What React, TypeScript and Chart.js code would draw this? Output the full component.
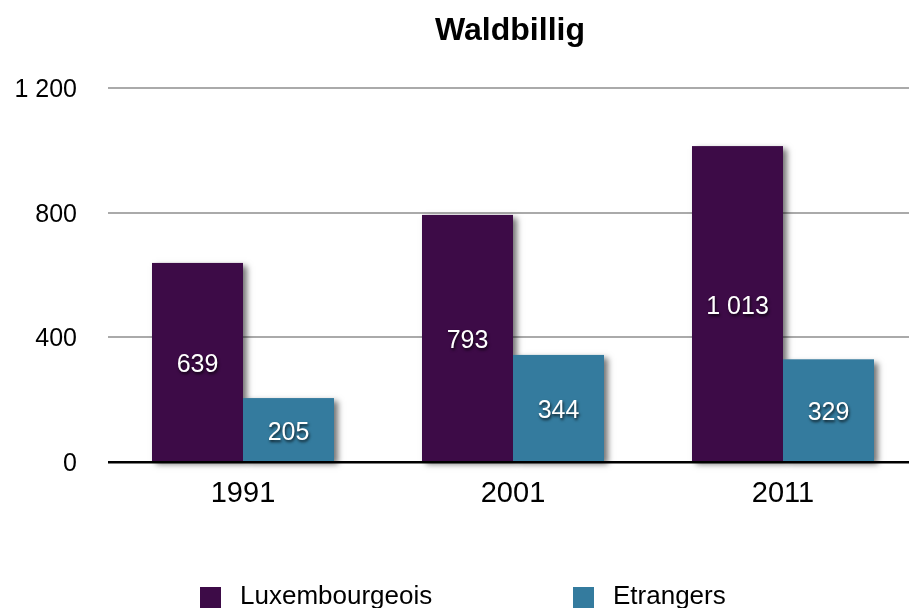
import React, { useEffect, useRef } from 'react';
import { Chart, registerables } from 'chart.js';

Chart.register(...registerables);

const TITLE = 'Waldbillig';
const categories = ['1991', '2001', '2011'];
const seriesNames = ['Luxembourgeois', 'Etrangers'];
const luxembourgeois = [639, 793, 1013];
const etrangers = [205, 344, 329];
const seriesColors = ['#3d0b47', '#347b9e'];
const yTicks = [0, 400, 800, 1200];

const FONT = '"Liberation Sans", Arial, Helvetica, sans-serif';
const fmt = (v: number) => String(v).replace(/\B(?=(\d{3})+(?!\d))/g, ' ');

const shadowPlugin = {
  id: 'barShadows',
  beforeDatasetsDraw(chart: any) {
    const ctx = chart.ctx;
    ctx.save();
    chart.data.datasets.forEach((ds: any, i: number) => {
      const meta = chart.getDatasetMeta(i);
      meta.data.forEach((el: any) => {
        const { x, y, base, width } = el.getProps(['x', 'y', 'base', 'width'], true);
        ctx.shadowColor = 'rgba(0,0,0,0.55)';
        ctx.shadowBlur = 6;
        ctx.shadowOffsetX = 4;
        ctx.shadowOffsetY = 3;
        ctx.fillStyle = ds.backgroundColor;
        ctx.fillRect(x - width / 2, y, width, base - y);
      });
    });
    ctx.restore();
  },
  afterDatasetsDraw(chart: any) {
    const ctx = chart.ctx;
    ctx.save();
    ctx.font = `25px ${FONT}`;
    ctx.textAlign = 'center';
    ctx.textBaseline = 'middle';
    ctx.fillStyle = '#ffffff';
    ctx.shadowColor = 'rgba(0,0,0,0.75)';
    ctx.shadowBlur = 3;
    ctx.shadowOffsetX = 1;
    ctx.shadowOffsetY = 2;
    chart.data.datasets.forEach((ds: any, i: number) => {
      const meta = chart.getDatasetMeta(i);
      meta.data.forEach((el: any, j: number) => {
        const { x, y, base } = el.getProps(['x', 'y', 'base'], true);
        ctx.fillText(fmt(ds.data[j]), x, (y + base) / 2 + 3);
      });
    });
    ctx.restore();
  },
  afterDraw(chart: any) {
    const ctx = chart.ctx;
    const area = chart.chartArea;
    ctx.save();
    // title
    ctx.font = `bold 32px ${FONT}`;
    ctx.fillStyle = '#000';
    ctx.textAlign = 'center';
    ctx.textBaseline = 'alphabetic';
    ctx.fillText(TITLE, (area.left + area.right) / 2 - 3, 40);
    // legend
    const boxX = [200, 573];
    ctx.font = `26px ${FONT}`;
    ctx.textAlign = 'left';
    chart.data.datasets.forEach((ds: any, i: number) => {
      ctx.fillStyle = ds.backgroundColor;
      ctx.fillRect(boxX[i], 587, 21, 21);
      ctx.fillStyle = '#000';
      ctx.fillText(ds.label, boxX[i] + 40, 604);
    });
    ctx.restore();
  },
};

export default function App() {
  const ref = useRef<HTMLCanvasElement | null>(null);

  useEffect(() => {
    if (!ref.current) return;
    const chart = new Chart(ref.current, {
      type: 'bar',
      data: {
        labels: categories,
        datasets: [
          {
            label: seriesNames[0],
            data: luxembourgeois,
            backgroundColor: seriesColors[0],
            borderWidth: 0,
            categoryPercentage: 0.674,
            barPercentage: 1.0,
          },
          {
            label: seriesNames[1],
            data: etrangers,
            backgroundColor: seriesColors[1],
            borderWidth: 0,
            categoryPercentage: 0.674,
            barPercentage: 1.0,
          },
        ],
      },
      options: {
        responsive: false,
        animation: false,
        layout: { padding: { top: 88, left: 14, right: 0, bottom: 83 } },
        plugins: {
          legend: { display: false },
          title: { display: false },
          tooltip: { enabled: false },
        },
        scales: {
          x: {
            grid: { display: false, drawTicks: false },
            border: { display: false },
            ticks: {
              color: '#000',
              font: { family: FONT, size: 29 },
              padding: 14,
            },
          },
          y: {
            min: 0,
            max: 1200,
            afterBuildTicks: (axis: any) => {
              axis.ticks = yTicks.map((v) => ({ value: v }));
            },
            afterFit: (axis: any) => {
              axis.width = 94;
            },
            grid: {
              drawTicks: false,
              color: (c: any) => (c.tick && c.tick.value === 0 ? '#000000' : '#aaaaaa'),
              lineWidth: (c: any) => (c.tick && c.tick.value === 0 ? 2.5 : 2),
            },
            border: { display: false },
            ticks: {
              color: '#000',
              font: { family: FONT, size: 25 },
              padding: 31,
              labelOffset: 2,
              callback: (v: any) => fmt(Number(v)),
            },
          },
        },
      },
      plugins: [shadowPlugin],
    });
    return () => chart.destroy();
  }, []);

  return (
    <div
      style={{
        position: 'fixed',
        left: 0,
        top: 0,
        width: 909,
        height: 608,
        overflow: 'hidden',
        background: '#fff',
      }}
    >
      <canvas ref={ref} width={918} height={608} style={{ display: 'block' }} />
    </div>
  );
}
